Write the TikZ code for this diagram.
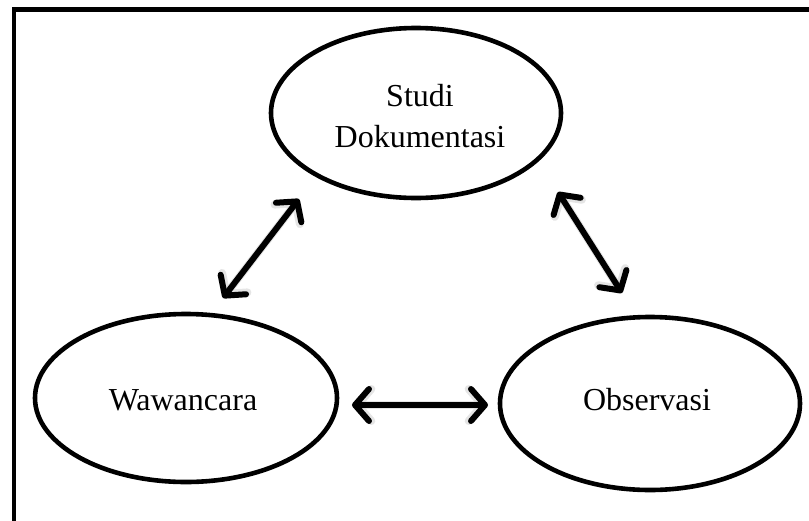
\documentclass[tikz,border=0pt]{standalone}
\usepackage{fontspec}
\setmainfont{Liberation Serif}
\usetikzlibrary{shapes.geometric,arrows.meta}
\begin{document}
\begin{tikzpicture}[x=1pt,y=-1pt,
  oval/.style={draw=black,line width=4.6pt,ellipse,inner sep=0pt},
  txt/.style={font=\fontsize{32}{41}\selectfont,align=center,inner sep=0pt},
  tip/.style={Straight Barb[length=14pt,width=32pt,line cap=round,line join=round]},
  dbl/.style={line width=6pt,line cap=round,{Straight Barb[length=14pt,width=32pt,line cap=round,line join=round]}-{Straight Barb[length=14pt,width=32pt,line cap=round,line join=round]}},
  shade/.style={line width=8pt,line cap=round,draw=black!20,opacity=0.5,{Straight Barb[length=14pt,width=32pt,line cap=round]}-{Straight Barb[length=14pt,width=32pt,line cap=round]}}]
\useasboundingbox (0,0) rectangle (809,520);
\clip (0,0) rectangle (809,520);
\draw[line width=4.6pt] (820,9.5) -- (14,9.5) -- (14,530);
\node[oval,minimum width=290pt,minimum height=170pt] (studi) at (416,113) {};
\node[oval,minimum width=302pt,minimum height=168pt] (waw) at (186,398) {};
\node[oval,minimum width=300pt,minimum height=173pt] (obs) at (650,403.5) {};
\node[txt,anchor=base] (studit) at (420,106) {Studi};
\node[txt,anchor=base] (dokt) at (420,147) {Dokumentasi};
\node[txt,anchor=base] (wawt) at (183,410) {Wawancara};
\node[txt,anchor=base] (obst) at (647,410) {Observasi};
\coordinate (l1) at (223,298);
\coordinate (l2) at (299,199);
\coordinate (r1) at (558,192);
\coordinate (r2) at (622,293);
\coordinate (h1) at (352,405);
\coordinate (h2) at (488,405);
\begin{scope}[shift={(3,4)}]
\draw[shade] (l1) -- (l2);
\draw[shade] (r1) -- (r2);
\draw[shade] (h1) -- (h2);
\end{scope}
\draw[dbl] (l1) -- (l2);
\draw[dbl] (r1) -- (r2);
\draw[dbl] (h1) -- (h2);
\end{tikzpicture}
\end{document}
